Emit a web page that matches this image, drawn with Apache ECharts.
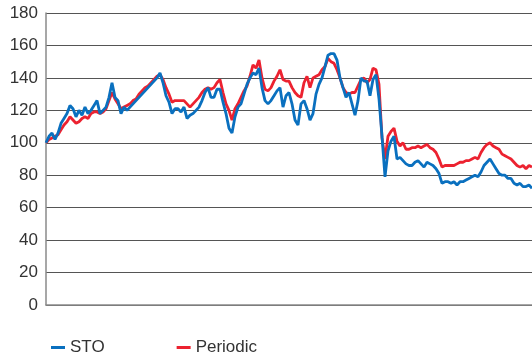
<!DOCTYPE html>
<html>
<head>
<meta charset="utf-8">
<script src="https://cdn.jsdelivr.net/npm/echarts@6/dist/echarts.min.js"></script>
<style>
  html, body { margin: 0; padding: 0; background: #fff; }
  #chart { width: 532px; height: 358px; }
</style>
</head>
<body>
<div id="chart"></div>
<script>
// values, one every ~3 px
const sto = [
  100, 104, 106, 102, 106, 112, 115, 118, 123, 121, 116, 120, 117, 122, 118, 120,
  123, 126, 118, 120, 122, 128, 137, 128, 126, 118, 122, 120, 122, 124, 126, 128,
  130, 132, 134, 136, 138, 140, 143, 137, 129, 125, 118, 121, 121, 119, 122, 115,
  117, 118, 120, 122, 126, 131, 134, 128, 128, 133, 133, 125, 118, 109, 106, 116,
  122, 124, 130, 136, 140, 143, 142, 146, 134, 126, 124, 126, 129, 132, 134, 122,
  129, 131, 124, 114, 111, 124, 126, 121, 114, 118, 130, 136, 140, 147, 154, 155,
  155, 151, 140, 134, 128, 131, 124, 117, 126, 140, 138, 138, 129, 139, 142, 127,
  104, 79, 95, 101, 104, 90, 91, 89, 87, 86, 86, 88, 89, 87, 85, 88,
  87, 86, 84, 81, 75, 76, 76, 75, 76, 74, 76, 76, 77, 78, 79, 80,
  79, 82, 86, 88, 90, 87, 84, 81, 80, 80, 78, 78, 75, 74, 75, 73,
  73, 74, 72
];
const periodic = [
  100, 102, 103, 104, 105, 108, 111, 113, 116, 114, 112, 113, 115, 116, 115, 118,
  119, 119, 118, 119, 121, 126, 131, 127, 124, 121, 122, 123, 124, 126, 127, 130,
  132, 134, 135, 137, 139, 141, 142, 139, 134, 130, 125, 126, 126, 126, 126, 124,
  122, 124, 126, 128, 131, 133, 134, 133, 134, 137, 139, 131, 124, 120, 114, 121,
  124, 128, 132, 135, 141, 148, 146, 151, 140, 133, 132, 134, 138, 141, 145, 139,
  138, 138, 134, 131, 129, 128, 137, 141, 134, 140, 141, 142, 145, 147, 152, 150,
  149, 145, 140, 134, 131, 130, 131, 131, 135, 139, 140, 137, 139, 146, 145, 136,
  103, 90, 104, 107, 109, 101, 98, 100, 96, 96, 97, 97, 98, 97, 98, 99,
  97, 96, 94, 90, 85, 86, 86, 86, 86, 87, 88, 88, 89, 89, 90, 91,
  90, 94, 97, 99, 100, 98, 97, 96, 93, 92, 91, 90, 88, 86, 85, 86,
  84, 86, 85
];
const categories = sto.map((v, i) => i);

const myChart = echarts.init(document.getElementById("chart"));
const font = "'Liberation Sans', Arial, sans-serif";
const option = {
  animation: false,
  textStyle: { fontFamily: font },
  grid: { left: 46, right: 0, top: 13, bottom: 53 },
  legend: {
    data: ["STO", "Periodic"],
    left: 46,
    top: 334,
    icon: "rect",
    itemWidth: 14,
    itemHeight: 3,
    itemGap: 72,
    textStyle: { fontSize: 17, color: "#333", fontFamily: font },
  },
  xAxis: {
    type: "category",
    data: categories,
    boundaryGap: false,
    axisLine: { lineStyle: { color: "#8a8a8a", width: 1.5 } },
    axisTick: { show: false },
    axisLabel: { show: false },
  },
  yAxis: {
    type: "value",
    min: 0,
    max: 180,
    interval: 20,
    axisLine: { show: true, lineStyle: { color: "#8a8a8a", width: 1.5 } },
    axisTick: { show: false },
    axisLabel: { fontSize: 17, color: "#333", margin: 8, fontFamily: font },
    splitLine: { lineStyle: { color: "#555", width: 1 } },
  },
  series: [
    {
      name: "Periodic",
      type: "line",
      data: periodic,
      showSymbol: false,
      lineStyle: { color: "#ec2230", width: 2.8 },
      itemStyle: { color: "#ec2230" },
    },
    {
      name: "STO",
      type: "line",
      data: sto,
      showSymbol: false,
      lineStyle: { color: "#0a70bf", width: 2.8 },
      itemStyle: { color: "#0a70bf" },
    },
  ],
};
myChart.setOption(option);
</script>
</body>
</html>
